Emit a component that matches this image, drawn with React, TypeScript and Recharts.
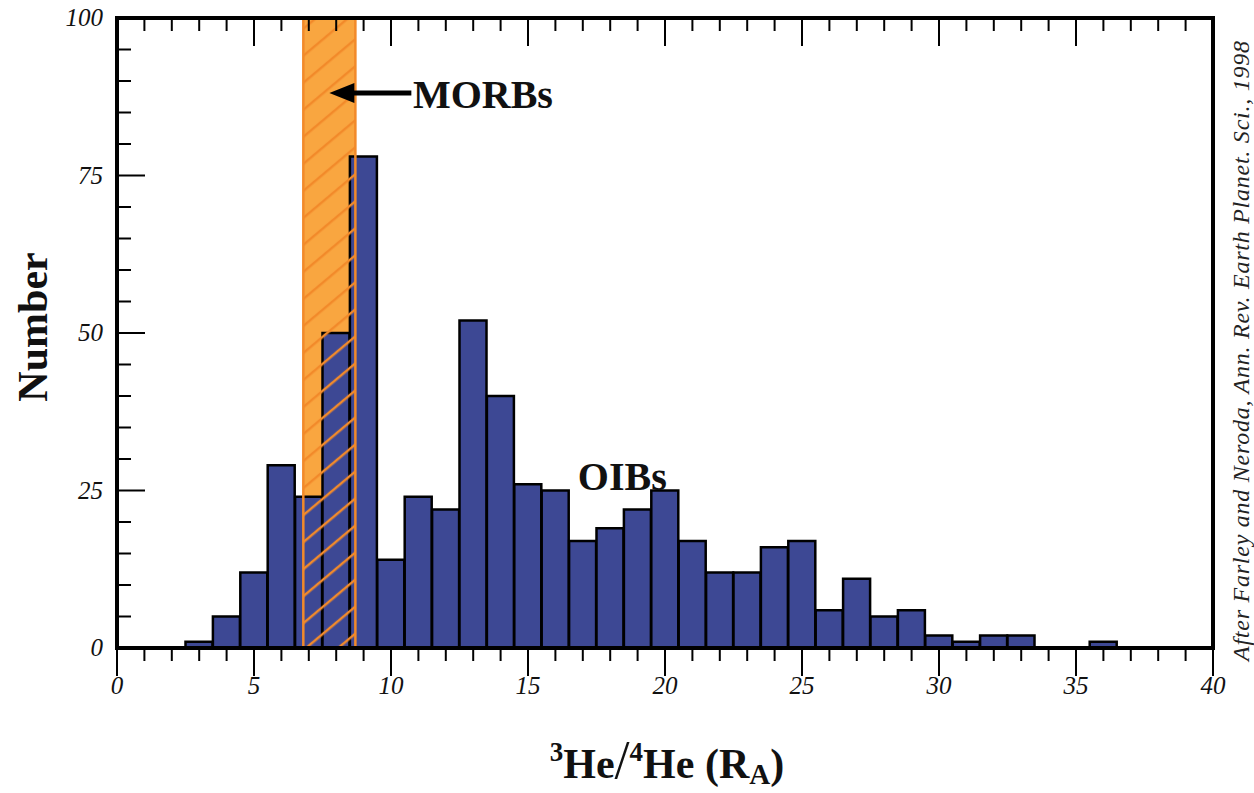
import React from 'react';
import { BarChart, Bar, XAxis, YAxis, ReferenceArea, ReferenceDot } from 'recharts';

// Histogram bins (centre of each 1-R_A wide bin) and number of samples
const binCenters = [0, 1, 2, 3, 4, 5, 6, 7, 8, 9, 10, 11, 12, 13, 14, 15, 16, 17, 18, 19, 20, 21, 22, 23, 24, 25, 26, 27, 28, 29, 30, 31, 32, 33, 34, 35, 36, 37, 38, 39, 40];
const counts = [0, 0, 0, 1, 5, 12, 29, 24, 50, 78, 14, 24, 22, 52, 40, 26, 25, 17, 19, 22, 25, 17, 12, 12, 16, 17, 6, 11, 5, 6, 2, 1, 2, 2, 0, 0, 1, 0, 0, 0, 0];

const xTicks = [0, 1, 2, 3, 4, 5, 6, 7, 8, 9, 10, 11, 12, 13, 14, 15, 16, 17, 18, 19, 20, 21, 22, 23, 24, 25, 26, 27, 28, 29, 30, 31, 32, 33, 34, 35, 36, 37, 38, 39, 40];
const yTicks = [0, 5, 10, 15, 20, 25, 30, 35, 40, 45, 50, 55, 60, 65, 70, 75, 80, 85, 90, 95, 100];

// MORB range band
const morbRange = [6.8, 8.7];

const data = binCenters.map((c, i) => ({ x: c, n: counts[i] }));

const FONT = '"Liberation Serif", "DejaVu Serif", serif';
const BAR_FILL = '#3D4894';
const ORANGE_FILL = '#F9A640';
const ORANGE_LINE = '#F28A2A';

const BottomTick = (props: any) => {
  const { x, y, payload } = props;
  const v = payload.value;
  const major = v % 5 === 0;
  return (
    <g>
      <line x1={x} x2={x} y1={y} y2={y + (major ? 28 : 13)} stroke="#000" strokeWidth={2} />
      {major && (
        <text x={x} y={y + 46} textAnchor="middle" fontStyle="italic" fontSize={25} fontFamily={FONT} fill="#111">
          {v}
        </text>
      )}
    </g>
  );
};

const TopTick = (props: any) => {
  const { x, y, payload } = props;
  const major = payload.value % 5 === 0;
  return <line x1={x} x2={x} y1={y} y2={y + (major ? 28 : 13)} stroke="#000" strokeWidth={2} />;
};

const LeftTick = (props: any) => {
  const { x, y, payload } = props;
  const v = payload.value;
  const major = v % 25 === 0;
  return (
    <g>
      <line x1={x} x2={x + (major ? 28 : 14)} y1={y} y2={y} stroke="#000" strokeWidth={2} />
      {major && (
        <text x={x - 14} y={y + 8} textAnchor="end" fontStyle="italic" fontSize={25} fontFamily={FONT} fill="#111">
          {v}
        </text>
      )}
    </g>
  );
};

const RightTick = (props: any) => {
  const { x, y, payload } = props;
  const major = payload.value % 25 === 0;
  return <line x1={x} x2={x - (major ? 28 : 14)} y1={y} y2={y} stroke="#000" strokeWidth={2} />;
};

const XTitle = (props: any) => {
  const vb = props.viewBox;
  const cx = vb.x + vb.width / 2 + 2;
  const by = vb.y + 130;
  return (
    <text x={cx} y={by} textAnchor="middle" fontFamily={FONT} fontWeight="bold" fontSize={42} fill="#111">
      <tspan fontSize={27} dy={-17}>3</tspan>
      <tspan dy={17}>He</tspan>
      <tspan fontSize={54} fontWeight="normal">/</tspan>
      <tspan fontSize={27} dy={-17}>4</tspan>
      <tspan dy={17}>He (R</tspan>
      <tspan fontSize={29} dy={6}>A</tspan>
      <tspan dy={-6}>)</tspan>
    </text>
  );
};

const YTitle = (props: any) => {
  const vb = props.viewBox;
  const x = 47;
  const y = vb.y + vb.height / 2 - 6;
  return (
    <text x={x} y={y} transform={`rotate(-90 ${x} ${y})`} textAnchor="middle" fontFamily={FONT} fontWeight="bold" fontSize={42} fill="#111">
      Number
    </text>
  );
};

const SourceNote = (props: any) => {
  const vb = props.viewBox;
  const x = 1249;
  const y = vb.y + vb.height / 2 + 18;
  return (
    <text
      x={x}
      y={y}
      transform={`rotate(-90 ${x} ${y})`}
      textAnchor="middle"
      fontFamily={FONT}
      fontStyle="italic"
      fontSize={24}
      fill="#222"
      textLength={620}
      lengthAdjust="spacing"
    >
      After Farley and Neroda, Ann. Rev. Earth Planet. Sci., 1998
    </text>
  );
};

const MorbLabel = (props: any) => (
  <text x={props.cx} y={props.cy} fontFamily={FONT} fontWeight="bold" fontSize={40} fill="#111">
    MORBs
  </text>
);

const OibLabel = (props: any) => (
  <text x={props.cx} y={props.cy} fontFamily={FONT} fontWeight="bold" fontSize={40} fill="#111">
    OIBs
  </text>
);

const Arrow = (props: any) => {
  const { cx, cy } = props;
  return (
    <g>
      <line x1={cx + 18} x2={cx + 82} y1={cy} y2={cy} stroke="#000" strokeWidth={5} />
      <polygon points={`${cx},${cy} ${cx + 25},${cy - 10} ${cx + 25},${cy + 10}`} fill="#000" />
    </g>
  );
};

export default function App() {
  return (
    <div style={{ position: 'absolute', left: 0, top: 0, width: 1254, height: 793, background: '#fff' }}>
      <BarChart
        width={1254}
        height={793}
        data={data}
        margin={{ top: 8, right: 1, bottom: 85, left: 57 }}
        barCategoryGap={0}
        barGap={0}
      >
        <defs>
          <pattern id="hatch" patternUnits="userSpaceOnUse" width="30" height="20.7" patternTransform="rotate(-40)">
            <line x1="0" y1="10" x2="30" y2="10" stroke={ORANGE_LINE} strokeWidth="2.5" />
          </pattern>
        </defs>
        <XAxis
          dataKey="x"
          type="number"
          domain={[0, 40]}
          ticks={xTicks}
          interval={0}
          height={60}
          tickSize={0}
          tickMargin={0}
          tickLine={false}
          tick={<BottomTick />}
          axisLine={{ stroke: '#000', strokeWidth: 4, strokeLinecap: 'square' }}
          allowDataOverflow
          label={<XTitle />}
        />
        <XAxis
          xAxisId="top"
          dataKey="x"
          type="number"
          orientation="top"
          domain={[0, 40]}
          ticks={xTicks}
          interval={0}
          height={10}
          tickSize={0}
          tickMargin={0}
          tickLine={false}
          tick={<TopTick />}
          axisLine={{ stroke: '#000', strokeWidth: 4, strokeLinecap: 'square' }}
          allowDataOverflow
        />
        <YAxis
          type="number"
          domain={[0, 100]}
          ticks={yTicks}
          interval={0}
          width={60}
          tickSize={0}
          tickMargin={0}
          tickLine={false}
          tick={<LeftTick />}
          axisLine={{ stroke: '#000', strokeWidth: 4, strokeLinecap: 'square' }}
          label={<YTitle />}
        />
        <YAxis
          yAxisId="right"
          orientation="right"
          type="number"
          domain={[0, 100]}
          ticks={yTicks}
          interval={0}
          width={40}
          tickSize={0}
          tickMargin={0}
          tickLine={false}
          tick={<RightTick />}
          axisLine={{ stroke: '#000', strokeWidth: 4, strokeLinecap: 'square' }}
          label={<SourceNote />}
        />
        <ReferenceArea
          x1={morbRange[0]}
          x2={morbRange[1]}
          y1={0}
          y2={100}
          fill={ORANGE_FILL}
          fillOpacity={1}
          stroke="none"
          zIndex={100}
        />
        <Bar dataKey="n" fill={BAR_FILL} stroke="#000" strokeWidth={2.5} isAnimationActive={false} />
        <ReferenceArea
          x1={morbRange[0]}
          x2={morbRange[1]}
          y1={0}
          y2={100}
          fill="url(#hatch)"
          fillOpacity={1}
          stroke={ORANGE_LINE}
          strokeWidth={2.5}
          zIndex={350}
        />
        <ReferenceDot x={7.75} y={88.1} r={0} shape={<Arrow />} zIndex={600} />
        <ReferenceDot x={10.8} y={85.7} r={0} shape={<MorbLabel />} zIndex={600} />
        <ReferenceDot x={16.82} y={25.1} r={0} shape={<OibLabel />} zIndex={600} />
      </BarChart>
    </div>
  );
}
